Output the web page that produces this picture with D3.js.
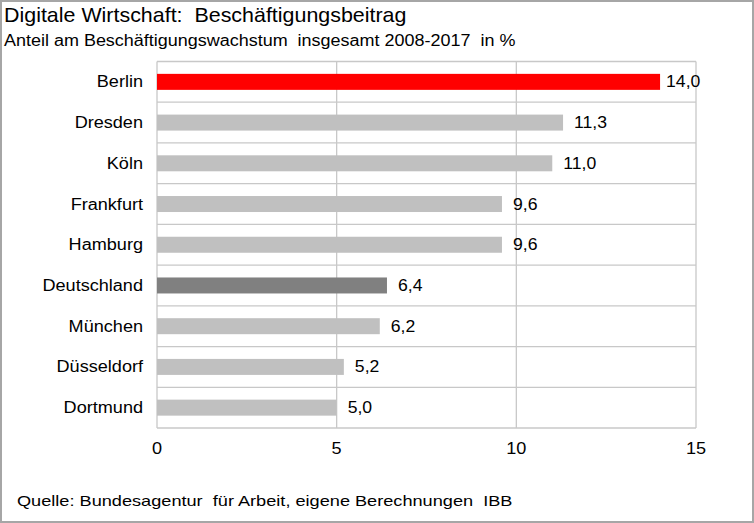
<!DOCTYPE html>
<html><head><meta charset="utf-8">
<script src="https://cdn.jsdelivr.net/npm/d3@7"></script>
<style>body{margin:0;background:#fff}svg{display:block;font-family:"Liberation Sans",Arial,sans-serif}</style>
</head><body><svg id="c" width="754" height="523"></svg>
<script>
const categories = ["Berlin","Dresden","Köln","Frankfurt","Hamburg","Deutschland","München","Düsseldorf","Dortmund"];
const values = [14.0,11.3,11.0,9.6,9.6,6.4,6.2,5.2,5.0];
const colors = ["#ff0000","#c0c0c0","#c0c0c0","#c0c0c0","#c0c0c0","#808080","#c0c0c0","#c0c0c0","#c0c0c0"];
const ticks = [0,5,10,15];

const svg = d3.select("#c");
const W=754,H=523;
svg.append("rect").attr("x",1).attr("y",1).attr("width",W-2).attr("height",H-2).attr("fill","#fff").attr("stroke","#a6a6a6").attr("stroke-width",2);

function stretch(sel,f){sel.each(function(){const w=this.getComputedTextLength();d3.select(this).attr("textLength",w*f).attr("lengthAdjust","spacingAndGlyphs");});return sel;}

const m={l:157,r:696,t:61.5,b:428};
const x=d3.scaleLinear().domain([0,15]).range([m.l,m.r]);
const n=categories.length;
const y=d3.scaleBand().domain(categories).range([m.t,m.b]);

const g=svg.append("g");
const bounds=d3.range(n+1).map(i=>m.t+i*y.step());
g.selectAll(".hl").data(bounds).join("line").attr("x1",m.l).attr("x2",m.r).attr("y1",d=>d).attr("y2",d=>d).attr("stroke","#c8c8c8").attr("stroke-width",1.3);
g.selectAll(".vl").data(ticks).join("line").attr("x1",d=>x(d)).attr("x2",d=>x(d)).attr("y1",m.t).attr("y2",m.b).attr("stroke","#c8c8c8").attr("stroke-width",1.3);

const bh=16;
const rowC=c=>y(c)+y.step()/2;
g.selectAll(".bar").data(values).join("rect")
 .attr("x",x(0)).attr("y",(d,i)=>rowC(categories[i])-bh/2)
 .attr("width",d=>x(d)-x(0)).attr("height",bh).attr("fill",(d,i)=>colors[i]);

const vals=g.selectAll(".val").data(values).join("text")
 .attr("y",(d,i)=>rowC(categories[i])+5.5)
 .attr("font-size",16).attr("fill","#000")
 .text(d=>d.toFixed(1).replace(".",","));
stretch(vals,1.1);
vals.attr("x",d=>Math.min(x(d)+11,x(d)+6));
vals.attr("x",function(d){return d>=13.5?x(d)+6:x(d)+11;});

stretch(g.selectAll(".cat").data(categories).join("text")
 .attr("x",143).attr("y",d=>rowC(d)+5.5).attr("text-anchor","end")
 .attr("font-size",16).attr("fill","#000").text(d=>d),1.13);

stretch(g.selectAll(".tk").data(ticks).join("text")
 .attr("x",d=>x(d)).attr("y",454).attr("text-anchor","middle")
 .attr("font-size",16).attr("fill","#000").text(d=>d),1.13);

stretch(svg.append("text").attr("x",4).attr("y",22).attr("font-size",21).attr("fill","#000").attr("xml:space","preserve").text("Digitale Wirtschaft:  Beschäftigungsbeitrag"),1.02);
stretch(svg.append("text").attr("x",4).attr("y",46).attr("font-size",16).attr("fill","#000").attr("xml:space","preserve").text("Anteil am Beschäftigungswachstum  insgesamt 2008-2017  in %"),1.123);
stretch(svg.append("text").attr("x",17).attr("y",506).attr("font-size",15).attr("fill","#000").attr("xml:space","preserve").text("Quelle: Bundesagentur  für Arbeit, eigene Berechnungen  IBB"),1.21);
</script></body></html>
